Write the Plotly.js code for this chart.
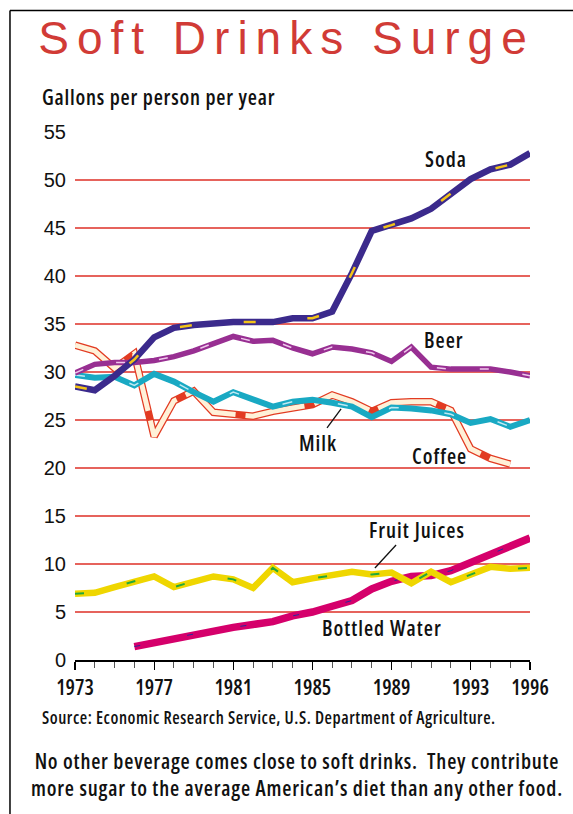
<!DOCTYPE html>
<html>
<head>
<meta charset="utf-8">
<script src="https://cdn.plot.ly/plotly-3.0.1.min.js"></script>
<style>
html,body{margin:0;padding:0;background:#fff;}
#chart{width:573px;height:814px;}
</style>
</head>
<body>
<div id="chart"></div>
<script>
// ---- data (gallons per person per year) ----
var years = [1973,1974,1975,1976,1977,1978,1979,1980,1981,1982,1983,1984,1985,1986,1987,1988,1989,1990,1991,1992,1993,1994,1995,1996];
var soda   = [28.5,28.1,29.6,31.3,33.6,34.6,34.9,35.1,35.2,35.2,35.2,35.6,35.6,36.3,40.3,44.7,45.3,46.0,47.0,48.6,50.1,51.1,51.6,52.8];
var beer   = [29.9,30.8,31.0,31.0,31.2,31.6,32.2,33.0,33.7,33.2,33.3,32.5,31.9,32.6,32.4,32.0,31.1,32.6,30.5,30.3,30.3,30.3,30.0,29.6];
var milk   = [29.7,29.4,29.5,28.6,29.8,29.0,27.9,26.9,27.9,27.2,26.4,26.9,27.1,26.8,26.4,25.3,26.3,26.2,26.0,25.6,24.7,25.1,24.3,25.0];
var coffee = [32.8,32.2,30.4,31.9,23.3,27.0,28.0,25.8,25.6,25.4,25.9,26.3,26.6,27.6,26.9,25.9,26.8,26.9,26.9,26.0,22.0,21.0,20.4,null];
var juice  = [6.9,7.0,7.6,8.2,8.7,7.6,8.2,8.7,8.4,7.5,9.6,8.1,8.5,8.8,9.2,8.9,9.1,8.0,9.2,8.1,8.9,9.7,9.5,9.6];
var water  = [null,null,null,1.4,1.8,2.3,2.7,3.0,3.4,3.7,4.0,4.6,5.0,5.6,6.2,7.4,8.2,8.7,8.8,9.3,10.2,11.0,11.9,12.7];

var majorTicks = [1973,1977,1981,1985,1989,1993,1996];
var yTicks = [0,5,10,15,20,25,30,35,40,45,50,55];

var OPEN = '"Open Sans", "Liberation Sans", sans-serif';
var SANS = '"Liberation Sans", Arial, sans-serif';
function cond(t, ls) {
  return '<span style="font-stretch:75%;font-weight:600;letter-spacing:' + (ls || 0) + 'px">' + t + '</span>';
}

function line(y, color, width, dash) {
  return {x: years, y: y, type: 'scatter', mode: 'lines', hoverinfo: 'skip',
    connectgaps: false,
    line: {color: color, width: width, dash: dash || 'solid', shape: 'linear'}};
}

var traces = [
  line(coffee, '#e23b22', 7.5),
  line(coffee, '#fff1d8', 5, '60px,10px'),
  line(milk, '#19a9c3', 6),
  line(milk, '#bfe9f2', 1.5, '10px,46px'),
  line(beer, '#982f92', 5.5),
  line(beer, '#efc7ec', 1.5, '9px,34px'),
  line(soda, '#3b2a8c', 6.5),
  line(soda, '#f2c318', 2.5, '12px,52px'),
  line(water, '#d5006b', 7.5),
  line(water, '#2a2a9a', 1, '6px,48px'),
  line(juice, '#efd600', 6.5),
  line(juice, '#22a83a', 2, '9px,44px')
];

var lblFont = {family: OPEN, size: 21, color: '#111'};
function lbl(text, x, y) {
  return {text: cond(text, 1.0), x: x, y: y, xref: 'x', yref: 'y', showarrow: false,
    font: lblFont, xanchor: 'center', yanchor: 'middle'};
}

var layout = {
  width: 573, height: 814,
  margin: {l: 75, r: 43, t: 132, b: 154, pad: 0},
  paper_bgcolor: '#fff', plot_bgcolor: '#fff',
  showlegend: false,
  hovermode: false,
  title: {
    text: '<span style="letter-spacing:8px">Soft Drinks Surge</span>',
    font: {family: SANS, size: 46, color: '#d13b36'},
    x: 0.5, xanchor: 'center', y: 0.953, yanchor: 'middle', xref: 'container', yref: 'container'
  },
  xaxis: {
    range: [1973, 1996], fixedrange: true,
    tickmode: 'array', tickvals: majorTicks, ticktext: majorTicks.map(function (v) { return cond(String(v), 0); }),
    ticks: 'outside', ticklen: 8, tickwidth: 1.2, tickcolor: '#000',
    minor: {dtick: 1, tick0: 1973, ticks: 'outside', ticklen: 6, tickwidth: 1, tickcolor: '#555', showgrid: false},
    showline: true, linecolor: '#000', linewidth: 1.5,
    showgrid: false, zeroline: false,
    tickfont: {family: OPEN, size: 21, color: '#111'}
  },
  yaxis: {
    range: [0, 55], fixedrange: true,
    tickmode: 'array', tickvals: yTicks,
    ticks: '', showline: false, zeroline: false,
    showgrid: true, gridcolor: '#e6635c', gridwidth: 1.2,
    ticklabelstandoff: 8,
    tickfont: {family: SANS, size: 20, color: '#111'}
  },
  annotations: [
    lbl('Soda', 1991.73, 52.2),
    lbl('Beer', 1991.65, 33.3),
    lbl('Milk', 1985.26, 22.6),
    lbl('Coffee', 1991.4, 21.25),
    lbl('Fruit Juices', 1990.31, 13.54),
    lbl('Bottled Water', 1988.54, 3.33),
    {text: cond('Gallons per person per year', 0.8), xref: 'paper', yref: 'paper', x: -0.077, y: 1.066,
     xanchor: 'left', yanchor: 'middle', showarrow: false, font: {family: OPEN, size: 21, color: '#111'}},
    {text: cond('Source: Economic Research Service, U.S. Department of Agriculture.', 0.55), xref: 'paper', yref: 'paper',
     x: -0.077, y: -0.1098, xanchor: 'left', yanchor: 'middle', showarrow: false,
     font: {family: OPEN, size: 17, color: '#111'}},
    {text: cond('No other beverage comes close to soft drinks.  They contribute', 0.8) + '<br>' + cond('more sugar to the average American\u2019s diet than any other food.', 0.8),
     xref: 'paper', yref: 'paper', x: 0.488, y: -0.2178, xanchor: 'center', yanchor: 'middle', align: 'center',
     showarrow: false, font: {family: OPEN, size: 21, color: '#111'}}
  ],
  shapes: [
    {type: 'line', xref: 'x', yref: 'y', x0: 1985.74, y0: 24.17, x1: 1986.45, y1: 26.15, line: {color: '#111', width: 1.3}},
    {type: 'line', xref: 'x', yref: 'y', x0: 1988.16, y0: 9.58, x1: 1989.23, y1: 11.98, line: {color: '#111', width: 1.3}},
    {type: 'line', xref: 'paper', yref: 'paper', x0: -0.1429, y0: 1.2301, x1: 1.1, y1: 1.2301, line: {color: '#000', width: 1.5}},
    {type: 'line', xref: 'paper', yref: 'paper', x0: -0.1429, y0: 1.2301, x1: -0.1429, y1: -0.31, line: {color: '#000', width: 1.5}}
  ]
};

Plotly.newPlot('chart', traces, layout, {staticPlot: true, displayModeBar: false});
</script>
</body>
</html>
